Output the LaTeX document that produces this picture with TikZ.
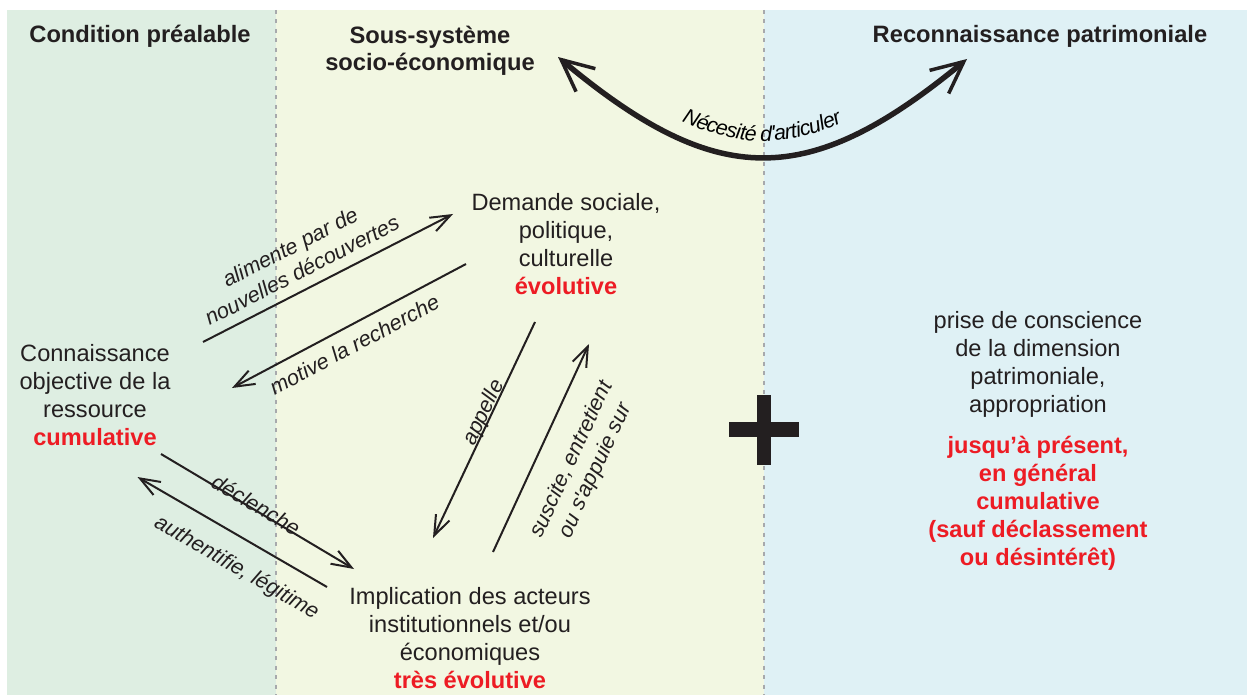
\documentclass[tikz,border=0pt]{standalone}
\usepackage{fontspec}
\setmainfont{Liberation Sans}
\usetikzlibrary{arrows.meta, decorations.text}

\definecolor{ink}{HTML}{231F20}
\definecolor{rouge}{HTML}{ED1C24}
\definecolor{fondcond}{HTML}{DEEEE2}
\definecolor{fondsous}{HTML}{F2F7E2}
\definecolor{fondreco}{HTML}{DFF1F5}
\definecolor{trait}{HTML}{A7A9AC}

\newcommand{\enrouge}[1]{{\bfseries\color{rouge}#1}}

\tikzset{
  txt/.style={align=center, inner sep=0pt, text=ink, font=\fontsize{11.8}{14}\selectfont},
  titre/.style={txt, font=\fontsize{11.85}{13.7}\selectfont\bfseries},
  lbl/.style={sloped, align=center, inner sep=0pt, text=ink, font=\fontsize{10.8}{13}\selectfont\itshape},
  fl/.style={draw=ink, line width=1pt, >={Straight Barb[length=10pt, width=7.5pt]}, ->},
  grandefl/.style={draw=ink, line width=2.75pt, >={Straight Barb[length=16pt, width=15pt, line width=1.75pt]}, <->},
  sepline/.style={draw=trait, line width=1pt, dash pattern=on 2pt off 2.75pt},
  plus/.style={draw=ink, line width=7.25pt}
}

\begin{document}
\begin{tikzpicture}[x=0.5pt, y=-0.5pt]
\useasboundingbox (0,0) rectangle (1247,695);
% fonds
\fill[fondcond] (7,10) rectangle (276,695);
\fill[fondsous] (276,10) rectangle (764,695);
\fill[fondreco] (764,10) rectangle (1247,695);
\draw[sepline] (276,10) -- (276,695);
\draw[sepline] (764,10) -- (764,695);
\draw[plus] (764,395) -- (764,465) (729,429.5) -- (799,429.5);

% titres
\node[titre] (t1) at (140,36) {Condition préalable};
\node[titre] (t2) at (430,51) {Sous-système\\socio-économique};
\node[titre] (t3) at (1040,36) {Reconnaissance patrimoniale};

% blocs
\node[txt] (c1) at (95,395) {Connaissance\\objective de la\\ressource\\\enrouge{cumulative}};
\node[txt] (d1) at (566,244) {Demande sociale,\\politique,\\culturelle\\\enrouge{évolutive}};
\node[txt] (i1) at (470,638) {Implication des acteurs\\institutionnels et/ou\\économiques\\\enrouge{très évolutive}};
\node[txt] (p1) at (1038,441) {prise de conscience\\de la dimension\\patrimoniale,\\appropriation\\[6.5pt]
  \enrouge{jusqu’à présent,}\\\enrouge{en général}\\\enrouge{cumulative}\\\enrouge{(sauf déclassement}\\\enrouge{ou désintérêt)}};

% grande fleche
\coordinate (s1) at (558,57);
\coordinate (r1) at (967,59);
\draw[grandefl] (s1) .. controls (717,190) and (808,190) .. (r1);
\path[decorate, decoration={text along path, text align=center, raise=8pt,
  text={|\itshape\fontsize{10.6}{12}\selectfont|Nécesité d{\textquotesingle}articuler}}]
  (s1) .. controls (717,190) and (808,190) .. (r1);

% fleches
\coordinate (a1) at (203,342);   \coordinate (b1) at (453,214);
\coordinate (a2) at (466,264);   \coordinate (b2) at (232,388);
\coordinate (a3) at (535,322);   \coordinate (b3) at (433,538);
\coordinate (a4) at (493,552);   \coordinate (b4) at (589,344);
\coordinate (a5) at (161,454);   \coordinate (b5) at (354,569);
\coordinate (a6) at (327,587);   \coordinate (b6) at (137.5,477);
\draw[fl] (a1) -- (b1) node[lbl, pos=0.43, above=5pt] {alimente par de\\nouvelles découvertes};
\draw[fl] (a2) -- (b2) node[lbl, pos=0.515, below=5pt] {motive la recherche};
\draw[fl] (a3) -- (b3) node[lbl, pos=0.435, above=-2pt] {appelle};
\draw[fl] (a4) -- (b4) node[lbl, pos=0.51, below=11pt] {suscite, entretient\\ou s{\textquotesingle}appuie sur};
\draw[fl] (a5) -- (b5) node[lbl, pos=0.48, above=-2pt] {déclenche};
\draw[fl] (a6) -- (b6) node[lbl, pos=0.40, below=9pt] {authentifie, légitime};
\end{tikzpicture}
\end{document}
